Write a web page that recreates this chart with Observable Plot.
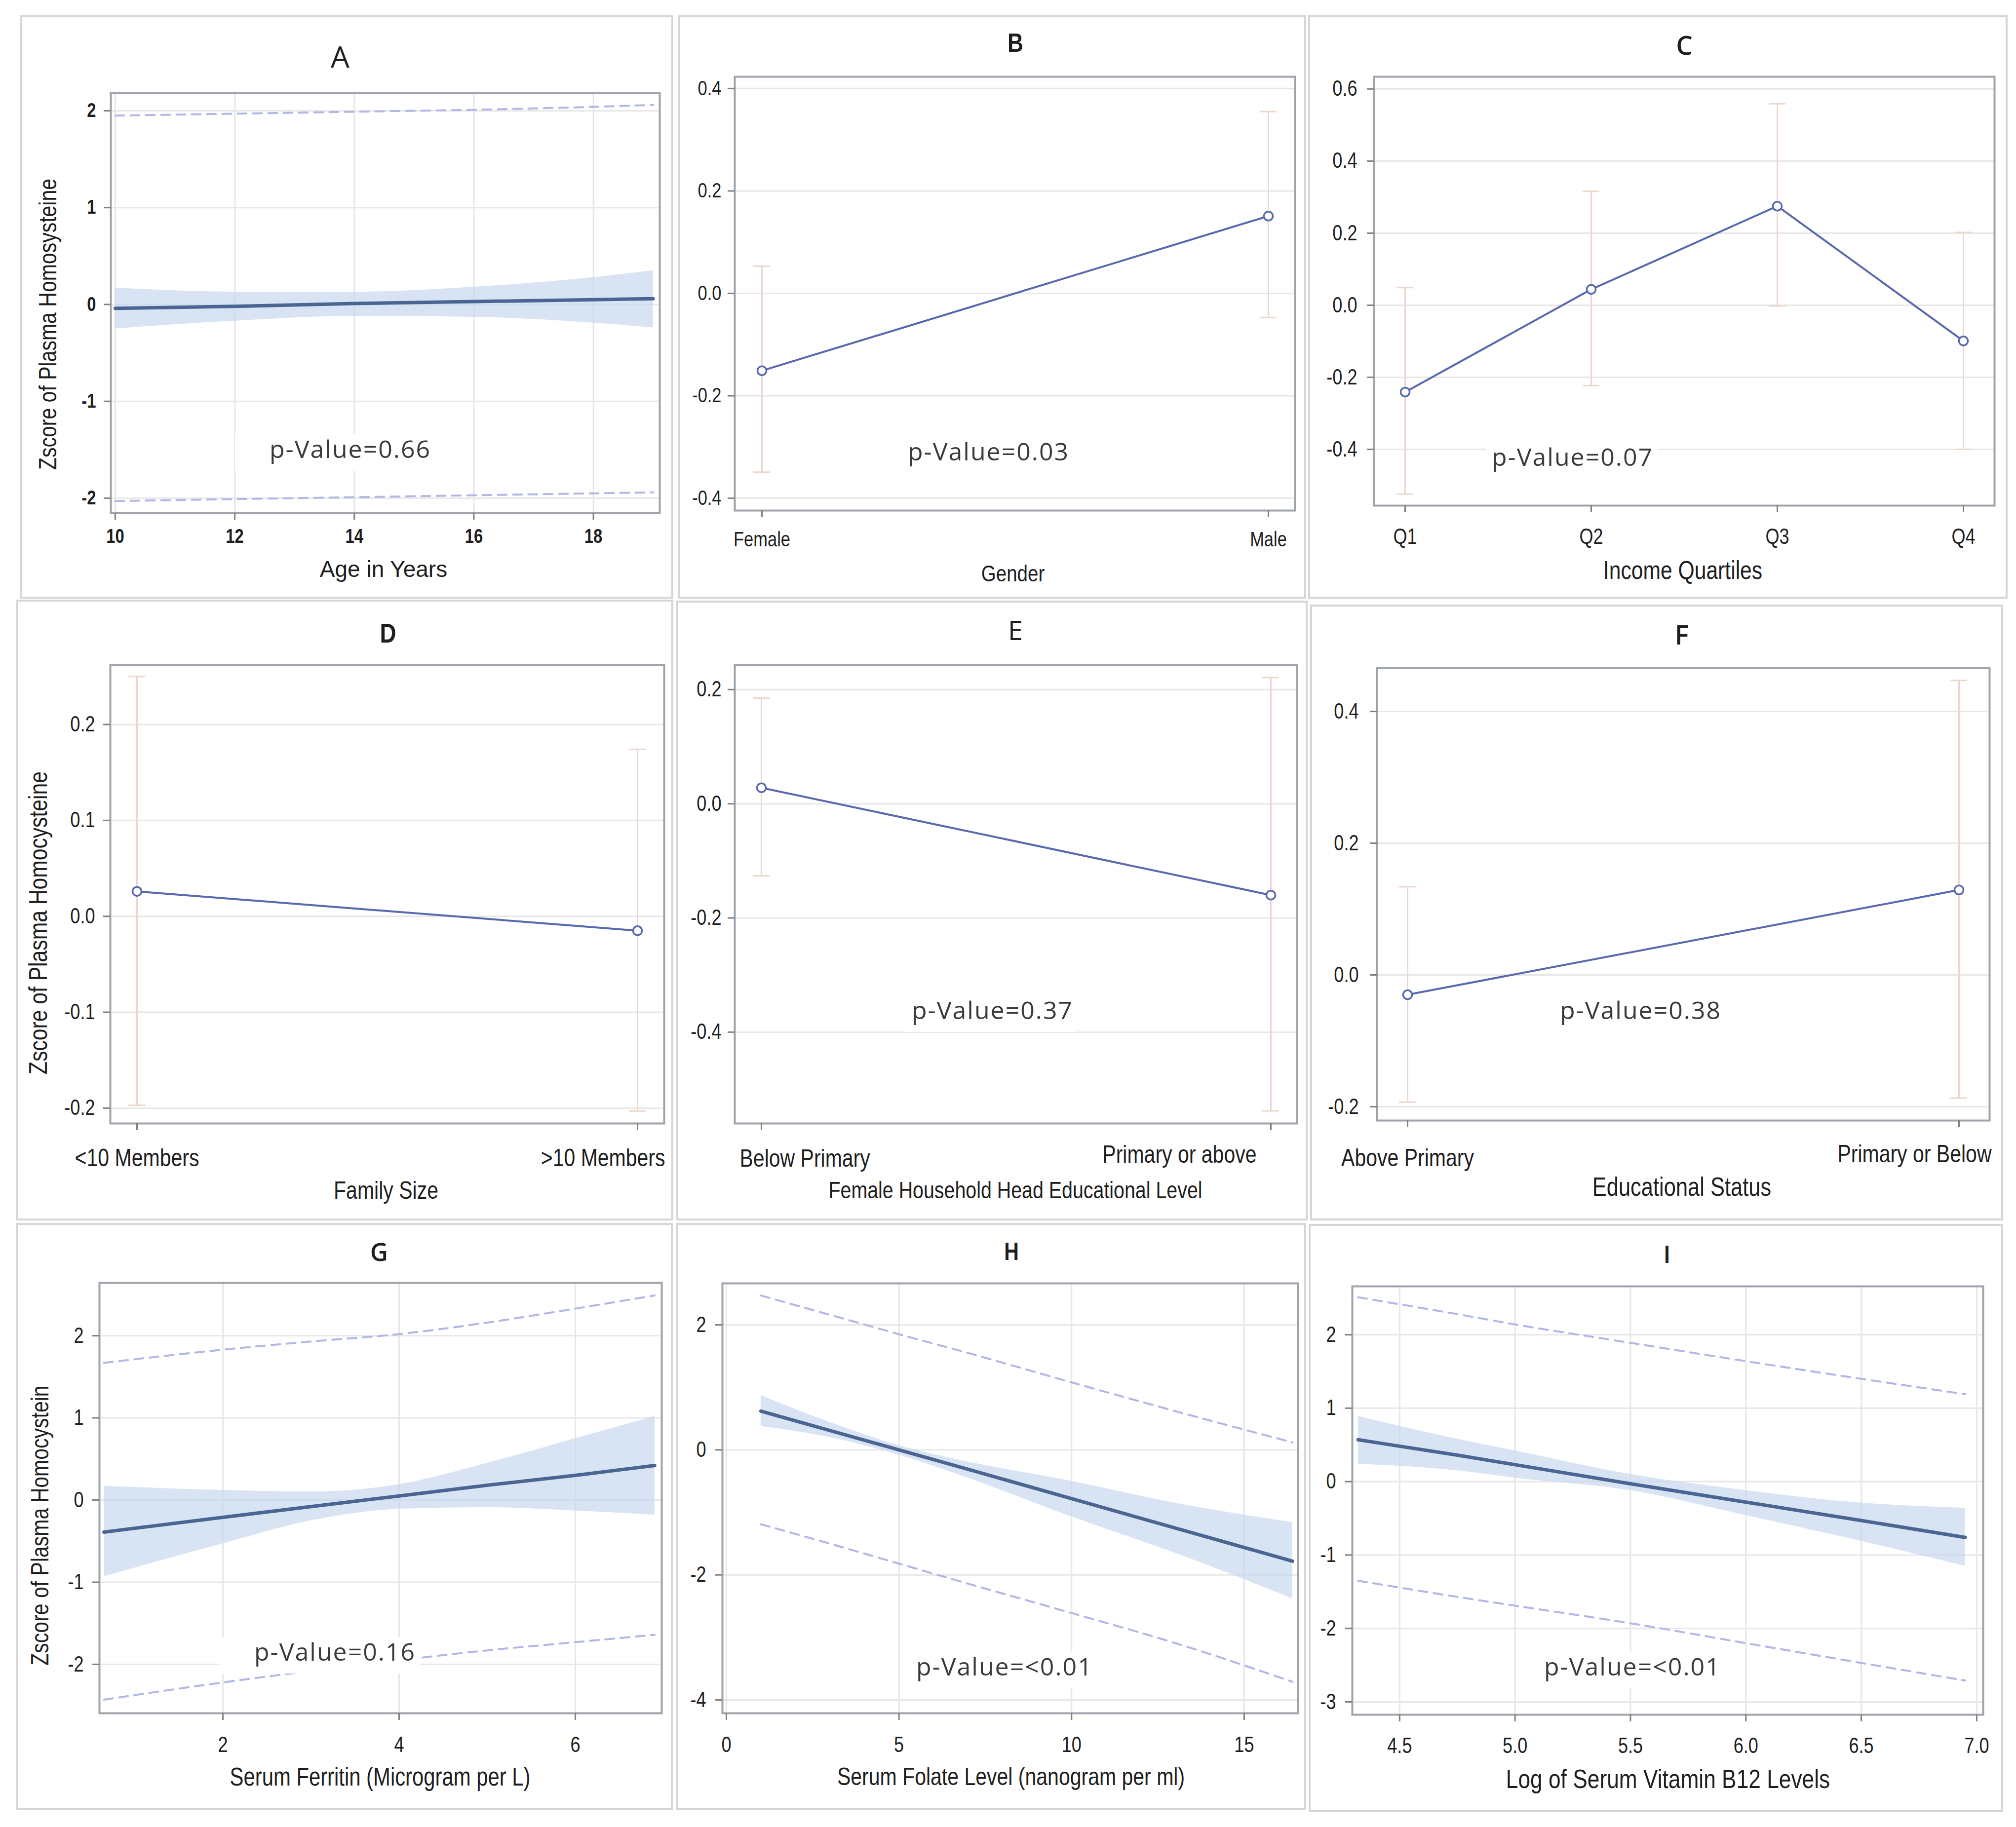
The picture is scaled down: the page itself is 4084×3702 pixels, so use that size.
<!DOCTYPE html>
<html><head><meta charset="utf-8">
<script src="https://cdn.jsdelivr.net/npm/d3@7"></script>
<script src="https://cdn.jsdelivr.net/npm/@observablehq/plot@0.6"></script>
<style>
body{margin:0;background:#fff;}
#root{position:relative;width:4084px;height:3702px;background:#fff;overflow:hidden;}
.panel{position:absolute;box-sizing:border-box;border:4px solid #d6d6d6;background:#fff;}
.panel svg{position:absolute;left:0;top:0;}
.t{position:absolute;white-space:nowrap;line-height:1;transform:translate(-50%,-50%);color:#1e1e1e;}
.n{transform:translate(-50%,-50%) scaleX(0.82);}
.yl{transform:translate(-50%,-50%) rotate(-90deg) scaleX(0.82);}
.pv{position:absolute;white-space:nowrap;line-height:50px;height:50px;transform:translateY(-29px);background:#fff;color:#3a3a3a;
  font-family:"Open Sans","Noto Sans",sans-serif;font-size:50px;letter-spacing:2px;padding:4px 8px 20px 0;}
</style>
</head><body><div id="root"></div>
<script>
// ---------------- data ----------------
// A: age
const ageX = [10, 12, 14, 16, 18, 19];
const ageFit = [-0.04, -0.02, 0.01, 0.03, 0.05, 0.06];
const ageLo = [-0.25, -0.17, -0.12, -0.13, -0.19, -0.24];
const ageHi = [0.17, 0.13, 0.13, 0.18, 0.28, 0.35];
const agePLo = [-2.03, -2.01, -1.99, -1.97, -1.95, -1.94];
const agePHi = [1.95, 1.97, 1.99, 2.01, 2.04, 2.06];
// B: gender
const genderCats = ["Female", "Male"];
const genderMean = [-0.151, 0.151];
const genderLo = [-0.349, -0.047];
const genderHi = [0.053, 0.355];
// C: income
const incomeCats = ["Q1", "Q2", "Q3", "Q4"];
const incomeMean = [-0.241, 0.044, 0.275, -0.099];
const incomeLo = [-0.524, -0.223, -0.002, -0.40];
const incomeHi = [0.049, 0.316, 0.559, 0.202];
// D: family size
const familyCats = ["<10 Members", ">10 Members"];
const familyMean = [0.026, -0.015];
const familyLo = [-0.197, -0.203];
const familyHi = [0.250, 0.174];
// E: female household head education
const femEduCats = ["Below Primary", "Primary or above"];
const femEduMean = [0.028, -0.160];
const femEduLo = [-0.126, -0.538];
const femEduHi = [0.185, 0.221];
// F: educational status
const eduCats = ["Above Primary", "Primary or Below"];
const eduMean = [-0.030, 0.129];
const eduLo = [-0.193, -0.187];
const eduHi = [0.134, 0.447];
// G: ferritin
const ferX = [0.65, 2, 3, 4, 5, 6, 6.9];
const ferFit = [-0.39, -0.21, -0.08, 0.05, 0.18, 0.30, 0.42];
const ferLo = [-0.93, -0.53, -0.25, -0.11, -0.09, -0.13, -0.18];
const ferHi = [0.17, 0.12, 0.10, 0.19, 0.45, 0.75, 1.02];
const ferPLo = [-2.43, -2.22, -2.08, -1.95, -1.83, -1.73, -1.64];
const ferPHi = [1.67, 1.83, 1.93, 2.02, 2.16, 2.33, 2.49];
// H: folate
const folX = [1, 3, 5, 7, 10, 13, 16.4];
const folFit = [0.62, 0.31, 0.0, -0.31, -0.78, -1.25, -1.78];
const folLo = [0.38, 0.20, -0.08, -0.45, -1.07, -1.65, -2.38];
const folHi = [0.87, 0.44, 0.07, -0.19, -0.50, -0.85, -1.16];
const folPLo = [-1.19, -1.50, -1.82, -2.14, -2.61, -3.09, -3.71];
const folPHi = [2.47, 2.16, 1.85, 1.55, 1.08, 0.62, 0.12];
// I: log B12
const b12X = [4.32, 4.75, 5.0, 5.5, 6.0, 6.5, 6.95];
const b12Fit = [0.57, 0.36, 0.23, -0.03, -0.28, -0.53, -0.76];
const b12Lo = [0.24, 0.15, 0.05, -0.12, -0.46, -0.81, -1.15];
const b12Hi = [0.89, 0.58, 0.42, 0.10, -0.12, -0.29, -0.36];
const b12PLo = [-1.35, -1.57, -1.69, -1.93, -2.20, -2.47, -2.71];
const b12PHi = [2.51, 2.28, 2.14, 1.89, 1.64, 1.40, 1.19];

// tick values
const ticksA_x = [10, 12, 14, 16, 18], ticksA_y = [-2, -1, 0, 1, 2];
const ticksB_y = [-0.4, -0.2, 0, 0.2, 0.4];
const ticksC_y = [-0.4, -0.2, 0, 0.2, 0.4, 0.6];
const ticksD_y = [-0.2, -0.1, 0, 0.1, 0.2];
const ticksE_y = [-0.4, -0.2, 0, 0.2];
const ticksF_y = [-0.2, 0, 0.2, 0.4];
const ticksG_x = [2, 4, 6], ticksG_y = [-2, -1, 0, 1, 2];
const ticksH_x = [0, 5, 10, 15], ticksH_y = [-4, -2, 0, 2];
const ticksI_x = [4.5, 5.0, 5.5, 6.0, 6.5, 7.0], ticksI_y = [-3, -2, -1, 0, 1, 2];

// text
const titles = ["A","B","C","D","E","F","G","H","I"];
const pvals = {A:"p-Value=0.66", B:"p-Value=0.03", C:"p-Value=0.07", E:"p-Value=0.37", F:"p-Value=0.38", G:"p-Value=0.16", H:"p-Value=<0.01", I:"p-Value=<0.01"};
const xLabels = {A:"Age in Years", B:"Gender", C:"Income Quartiles", D:"Family Size", E:"Female Household Head Educational Level", F:"Educational Status", G:"Serum Ferritin (Microgram per L)", H:"Serum Folate Level (nanogram per ml)", I:"Log of Serum Vitamin B12 Levels"};
const yLabels = {A:"Zscore of Plasma Homosysteine", D:"Zscore of Plasma Homocysteine", G:"Zscore of Plasma Homocystein"};

// ---------------- style / layout ----------------
const LIB = '"Liberation Sans",Arial,sans-serif';
const SANS = '"Open Sans","Noto Sans",sans-serif';
const GRID = "#e7e7e7", FRAME = "#9ea4aa", TICK = "#808080", TXT = "#1e1e1e";
const BAND = "#c3d5ec", PRED = "#b2b7e6", FIT = "#4a6592", CAT = "#5a69ad", ERR = "#ecd6cd";
const BORDER = 4, NARROWX = 0.82;

const layout = {
  A: {box:[40,31,1364,1213],   frame:[224,188,1336,1039]},
  B: {box:[1373,31,2646,1213], frame:[1488,155,2623,1034]},
  C: {box:[2650,31,4067,1213], frame:[2783,155,4040,1024]},
  D: {box:[33,1215,1364,2473], frame:[223,1347,1345,2276]},
  E: {box:[1370,1217,2649,2473], frame:[1488,1347,2627,2276]},
  F: {box:[2654,1225,4058,2473], frame:[2789,1353,4030,2270]},
  G: {box:[33,2478,1363,3668], frame:[201,2599,1340,3471]},
  H: {box:[1370,2478,2646,3668], frame:[1463,2600,2629,3471]},
  I: {box:[2651,2480,4058,3672], frame:[2739,2606,4017,3474]}
};
// [x, y, size, family, weight, narrow?]
const titlePos = {A:[689,114,60,SANS,400,false], B:[2057,86,54,LIB,700,true], C:[3412,90,53,SANS,600,false], D:[786,1283,56,LIB,700,true],
  E:[2057,1276,54,SANS,400,false], F:[3407,1285,54,SANS,600,false], G:[768,2536,50,SANS,600,false], H:[2049,2536,50,LIB,700,true], I:[3377,2542,50,LIB,700,true]};
const xLabelPos = {A:[777,1153,46,false], B:[2052,1161,47,true], C:[3409,1155,52,true], D:[782,2412,50,true], E:[2057,2412,48,true],
  F:[3407,2404,53,true], G:[770,3600,51,true], H:[2048,3600,50,true], I:[3379,3604,54,true]};
const yLabelPos = {A:[97,657,50], D:[77,1870,52], G:[81,3091,50]};
// [text left x, text centre y, left padding of the white box]
const pvPos = {A:[546,909,70], B:[1839,914,14], C:[3022,925,12], E:[1847,2046,14], F:[3160,2046,14], G:[515,3346,72], H:[1856,3376,14], I:[3128,3376,14]};

const fmt1 = d => (d < 0 ? "-" : "") + Math.abs(d).toFixed(1);
const fmt0 = d => (d < 0 ? "-" : "") + Math.abs(d);

const root = document.getElementById("root");

// narrow the (Arial-metric) SVG texts, like Arial Narrow:
// text-mark labels are scaled around their anchor; axis tick labels use textLength
function condense(svg) {
  svg.querySelectorAll("text").forEach(t => {
    const g = t.parentNode;
    const isTextMark = g && g.getAttribute && g.getAttribute("aria-label") === "text";
    const tr = t.getAttribute("transform");
    if (isTextMark && tr && t.getAttribute("x") == null && t.getAttribute("y") == null) {
      t.setAttribute("transform", tr + ` scale(${NARROWX},1)`);
    } else {
      const w = t.getComputedTextLength();
      if (w > 0) { t.setAttribute("textLength", (w * NARROWX).toFixed(1)); t.setAttribute("lengthAdjust", "spacingAndGlyphs"); }
    }
  });
}

function panel(key, opts) {
  const {box, frame} = layout[key];
  const div = document.createElement("div");
  div.className = "panel";
  Object.assign(div.style, {left: box[0]+"px", top: box[1]+"px", width: (box[2]-box[0])+"px", height: (box[3]-box[1])+"px"});
  const iL = box[0]+BORDER, iT = box[1]+BORDER, iW = box[2]-box[0]-2*BORDER, iH = box[3]-box[1]-2*BORDER;
  const svg = Plot.plot({
    width: iW, height: iH,
    marginLeft: frame[0]-iL, marginTop: frame[1]-iT, marginRight: iL+iW-frame[2], marginBottom: iT+iH-frame[3],
    style: {fontFamily: LIB, fontSize: "42px", background: "transparent", color: TXT},
    ...opts
  });
  div.appendChild(svg);
  root.appendChild(div);
  condense(svg);
}

function contMarks(X, fit, lo, hi, pLo, pHi, xt, yt, xfmt, yfmt, pad) {
  const rows = X.map((x, i) => ({x, fit: fit[i], lo: lo[i], hi: hi[i], pLo: pLo[i], pHi: pHi[i]}));
  const fs = pad.fs || 42, fw = pad.fw || 400;
  return [
    Plot.gridX(xt, {stroke: GRID, strokeOpacity: 1, strokeWidth: 3}),
    Plot.gridY(yt, {stroke: GRID, strokeOpacity: 1, strokeWidth: 3}),
    Plot.areaY(rows, {x: "x", y1: "lo", y2: "hi", fill: BAND, fillOpacity: 0.65, curve: "monotone-x"}),
    Plot.lineY(rows, {x: "x", y: "pHi", stroke: PRED, strokeWidth: 4, strokeDasharray: "18,13", curve: "monotone-x"}),
    Plot.lineY(rows, {x: "x", y: "pLo", stroke: PRED, strokeWidth: 4, strokeDasharray: "18,13", curve: "monotone-x"}),
    Plot.lineY(rows, {x: "x", y: "fit", stroke: FIT, strokeWidth: 7}),
    Plot.frame({stroke: FRAME, strokeWidth: 4}),
    Plot.axisY(yt, {tickSize: 14, tickPadding: pad.y, tickFormat: yfmt, label: null, fill: TXT, stroke: TICK, strokeWidth: 3, fontSize: fs, fontWeight: fw}),
    Plot.axisX(xt, {tickSize: 14, tickPadding: pad.x, tickFormat: xfmt, label: null, fill: TXT, stroke: TICK, strokeWidth: 3, fontSize: fs, fontWeight: fw})
  ];
}

function catMarks(cats, mean, lo, hi, yt, pad, extra = []) {
  const rows = cats.map((c, i) => ({c, m: mean[i], lo: lo[i], hi: hi[i]}));
  const fs = pad.fs || 42;
  const cap = {stroke: ERR, strokeWidth: 3, insetLeft: -17, insetRight: -17};
  return [
    Plot.gridY(yt, {stroke: GRID, strokeOpacity: 1, strokeWidth: 3}),
    Plot.ruleX(rows, {x: "c", y1: "lo", y2: "hi", stroke: ERR, strokeWidth: 3}),
    Plot.ruleY(rows, {x1: "c", x2: "c", y: "lo", ...cap}),
    Plot.ruleY(rows, {x1: "c", x2: "c", y: "hi", ...cap}),
    Plot.line(rows, {x: "c", y: "m", stroke: CAT, strokeWidth: 4}),
    Plot.dot(rows, {x: "c", y: "m", r: 9, stroke: CAT, strokeWidth: 3.5, fill: "white"}),
    Plot.frame({stroke: FRAME, strokeWidth: 4}),
    Plot.axisY(yt, {tickSize: 14, tickPadding: pad.y, tickFormat: fmt1, label: null, fill: TXT, stroke: TICK, strokeWidth: 3, fontSize: pad.yfs || 42}),
    Plot.axisX({tickSize: 14, tickPadding: pad.x, label: null, fill: pad.noText ? "none" : TXT, stroke: TICK, strokeWidth: 3, fontSize: fs}),
    ...extra
  ];
}

// category labels drawn as text marks: first centred (or shifted), last ending inside the panel
function catLabels(cats, first, last) {
  return [
    Plot.text(cats.slice(0, 1), {x: d => d, frameAnchor: "bottom", fontSize: 50, fill: TXT, ...first}),
    Plot.text(cats.slice(-1), {x: d => d, frameAnchor: "bottom", fontSize: 50, fill: TXT, textAnchor: "end", ...last})
  ];
}

// A
panel("A", {x: {domain: [9.926, 19.11]}, y: {domain: [-2.153, 2.183]},
  marks: contMarks(ageX, ageFit, ageLo, ageHi, agePLo, agePHi, ticksA_x, ticksA_y, fmt0, fmt0, {x: 18, y: 16, fs: 40, fw: 700})});
// B
panel("B", {x: {type: "point", domain: genderCats, padding: 0.0526}, y: {domain: [-0.424, 0.423]},
  marks: catMarks(genderCats, genderMean, genderLo, genderHi, ticksB_y, {x: 29, y: 13})});
// C
panel("C", {x: {type: "point", domain: incomeCats, padding: 0.167}, y: {domain: [-0.556, 0.634]},
  marks: catMarks(incomeCats, incomeMean, incomeLo, incomeHi, ticksC_y, {x: 32, y: 20, fs: 44, yfs: 44})});
// D
panel("D", {x: {type: "point", domain: familyCats, padding: 0.053}, y: {domain: [-0.216, 0.262]},
  marks: catMarks(familyCats, familyMean, familyLo, familyHi, ticksD_y, {x: 40, y: 17, fs: 50, yfs: 44, noText: true},
    catLabels(familyCats, {dy: 86}, {dy: 86, dx: 56}))});
// E
panel("E", {x: {type: "point", domain: femEduCats, padding: 0.0514}, y: {domain: [-0.56, 0.243]},
  marks: catMarks(femEduCats, femEduMean, femEduLo, femEduHi, ticksE_y, {x: 40, y: 13, fs: 50, yfs: 44, noText: true},
    catLabels(femEduCats, {dy: 87, dx: -44, textAnchor: "start"}, {dy: 79, dx: -29}))});
// F
panel("F", {x: {type: "point", domain: eduCats, padding: 0.0555}, y: {domain: [-0.221, 0.466]},
  marks: catMarks(eduCats, eduMean, eduLo, eduHi, ticksF_y, {x: 42, y: 23, fs: 50, yfs: 44, noText: true},
    catLabels(eduCats, {dy: 92}, {dy: 84, dx: 66}))});
// G
panel("G", {x: {domain: [0.599, 6.98]}, y: {domain: [-2.595, 2.643]},
  marks: contMarks(ferX, ferFit, ferLo, ferHi, ferPLo, ferPHi, ticksG_x, ticksG_y, fmt0, fmt0, {x: 33, y: 18, fs: 44})});
// H
panel("H", {x: {domain: [-0.114, 16.56]}, y: {domain: [-4.213, 2.663]},
  marks: contMarks(folX, folFit, folLo, folHi, folPLo, folPHi, ticksH_x, ticksH_y, fmt0, fmt0, {x: 33, y: 19, fs: 44})});
// I
panel("I", {x: {domain: [4.295, 7.028]}, y: {domain: [-3.175, 2.659]},
  marks: contMarks(b12X, b12Fit, b12Lo, b12Hi, b12PLo, b12PHi, ticksI_x, ticksI_y, fmt1, fmt0, {x: 32, y: 19, fs: 44})});

// ---------------- text overlays ----------------
function addText(txt, x, y, size, family, weight, cls) {
  const d = document.createElement("div");
  d.className = cls;
  d.textContent = txt;
  Object.assign(d.style, {left: x+"px", top: y+"px", fontSize: size+"px", fontFamily: family, fontWeight: weight || 400});
  root.appendChild(d);
  return d;
}
titles.forEach(k => { const p = titlePos[k]; addText(k, p[0], p[1], p[2], p[3], p[4], p[5] ? "t n" : "t"); });
Object.keys(xLabels).forEach(k => { const p = xLabelPos[k]; addText(xLabels[k], p[0], p[1], p[2], LIB, 400, p[3] ? "t n" : "t"); });
Object.keys(yLabels).forEach(k => { const p = yLabelPos[k]; addText(yLabels[k], p[0], p[1], p[2], LIB, 400, "t yl"); });
Object.keys(pvals).forEach(k => {
  const [x, y, padL] = pvPos[k];
  const d = document.createElement("div");
  d.className = "pv";
  d.textContent = pvals[k];
  Object.assign(d.style, {left: (x - padL)+"px", top: y+"px", paddingLeft: padL+"px"});
  root.appendChild(d);
});
</script>
</body></html>
